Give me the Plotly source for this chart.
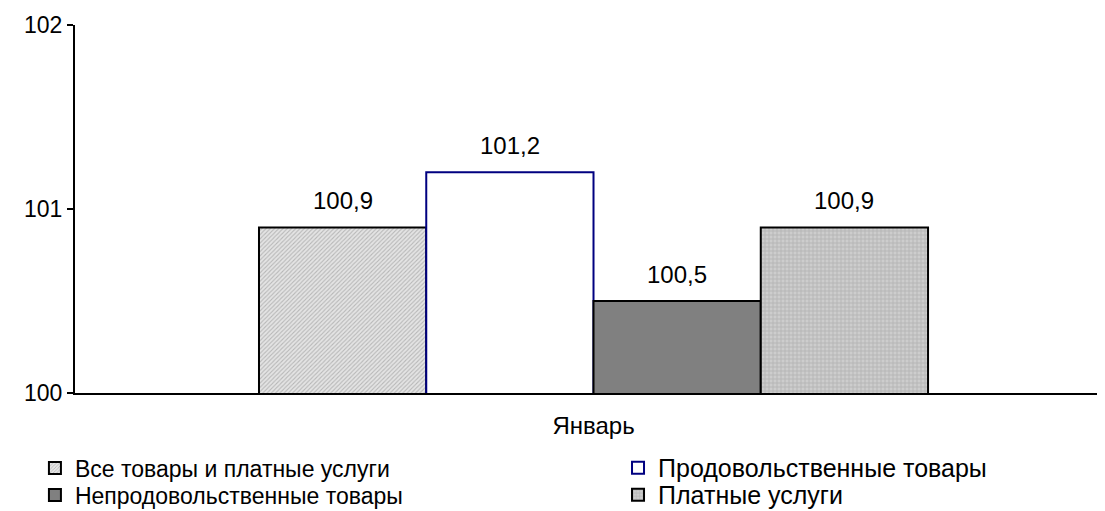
import plotly.graph_objects as go

categories = ["Январь"]
series_names = [
    "Все товары и платные услуги",
    "Продовольственные товары",
    "Непродовольственные товары",
    "Платные услуги",
]
values = [100.9, 101.2, 100.5, 100.9]
y_ticks = [100, 101, 102]

FONT = "Liberation Sans, Arial, sans-serif"
FS = 23

styles = [
    dict(color="#d4d4d4", line=dict(color="#000000", width=2),
         pattern=dict(shape="/", size=3, solidity=0.35, fgcolor="#8a8a8a", bgcolor="#e4e4e4")),
    dict(color="#ffffff", line=dict(color="#000080", width=2)),
    dict(color="#808080", line=dict(color="#000000", width=2)),
    dict(color="#b8b8b8", line=dict(color="#000000", width=2),
         pattern=dict(shape="+", size=4, solidity=0.3, fgcolor="#8c8c8c", bgcolor="#cdcdcd")),
]
legend_ids = ["legend", "legend2", "legend3", "legend4"]

fig = go.Figure()
for i, (name, v) in enumerate(zip(series_names, values)):
    fig.add_trace(go.Bar(
        x=[i], y=[v], width=1, name=name,
        marker=styles[i], legend=legend_ids[i], showlegend=True,
        hoverinfo="skip",
    ))
    fig.add_annotation(
        x=i, y=v, text=f"{v:.1f}".replace(".", ","), showarrow=False,
        yshift=27, font=dict(family=FONT, size=24, color="#000000"),
    )

leg_common = dict(
    xanchor="left", yanchor="middle",
    orientation="v", bgcolor="rgba(0,0,0,0)",
    itemsizing="constant",
)
col_x = [-0.0389, 0.5272]
row_y = [-0.2037, -0.2771]
col_font = [23, 25]

fig.update_layout(
    width=1097, height=503,
    margin=dict(l=67, r=0, t=17, b=118, autoexpand=False),
    paper_bgcolor="#ffffff", plot_bgcolor="#ffffff",
    font=dict(family=FONT, size=FS, color="#000000"),
    barmode="overlay",
    showlegend=True,
    xaxis=dict(
        range=[-1.6, 4.558], tickvals=[1.5], ticktext=categories,
        showgrid=False, zeroline=False, showline=True, linecolor="#000000",
        linewidth=2, ticks="", tickfont=dict(size=24), ticklabelstandoff=10,
    ),
    yaxis=dict(
        range=[100, 102], tickvals=y_ticks, ticktext=[str(t) for t in y_ticks],
        showgrid=False, zeroline=False, showline=True, linecolor="#000000",
        linewidth=2, ticks="outside", ticklen=6, tickwidth=2, tickcolor="#000000",
        tickfont=dict(size=FS),
    ),
    legend=dict(x=col_x[0], y=row_y[0], font=dict(size=col_font[0]), **leg_common),
    legend2=dict(x=col_x[1], y=row_y[0], font=dict(size=col_font[1]), **leg_common),
    legend3=dict(x=col_x[0], y=row_y[1], font=dict(size=col_font[0]), **leg_common),
    legend4=dict(x=col_x[1], y=row_y[1], font=dict(size=col_font[1]), **leg_common),
)

fig.write_html("out.html")
